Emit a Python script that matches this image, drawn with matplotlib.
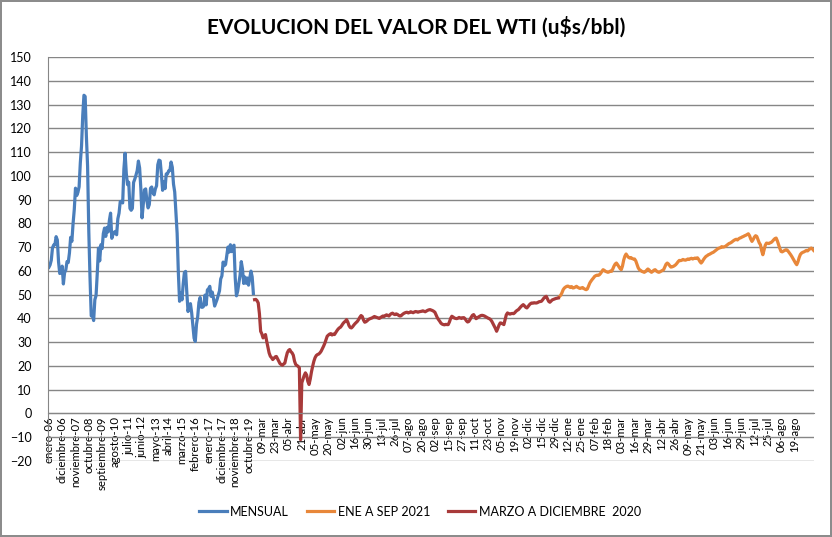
import numpy as np
import matplotlib
matplotlib.use("Agg")
import matplotlib.pyplot as plt

plt.rcParams['font.family'] = ['Lato', 'DejaVu Sans']

# promedio mensual ene-06 a feb-20
mensual = [
    61.5, 62.5, 64.5, 69.7, 70.9, 71.0, 74.4, 73.0, 63.8, 58.9, 59.1, 62.0,
    54.5, 59.3, 60.4, 63.9, 63.5, 67.5, 74.1, 72.4, 79.9, 85.8, 94.8, 91.7,
    93.0, 95.4, 105.5, 112.6, 125.4, 133.9, 133.4, 116.7, 104.1, 76.6, 57.3, 41.1,
    41.7, 39.1, 47.9, 49.6, 59.0, 69.6, 64.2, 71.0, 69.4, 75.7, 78.0, 74.5,
    78.3, 76.4, 81.2, 84.3, 73.7, 75.3, 76.3, 76.6, 75.2, 81.9, 84.3, 89.2,
    89.2, 88.6, 102.9, 109.5, 100.9, 96.3, 97.3, 86.3, 85.5, 86.3, 97.2, 98.6,
    100.3, 102.2, 106.2, 103.3, 94.7, 82.3, 87.9, 94.1, 94.5, 89.5, 86.5, 87.9,
    94.8, 95.3, 92.9, 92.0, 94.5, 95.8, 104.6, 106.6, 106.3, 100.5, 93.9, 97.6,
    94.6, 100.8, 100.8, 102.1, 102.2, 105.8, 103.6, 96.5, 93.2, 84.4, 75.8, 59.3,
    47.2, 50.6, 47.8, 54.5, 59.3, 59.8, 50.9, 42.9, 45.5, 46.2, 42.4, 37.2,
    31.7, 30.3, 37.5, 40.8, 46.7, 48.8, 44.7, 44.7, 45.2, 49.8, 45.7, 52.0,
    52.5, 53.5, 49.3, 51.1, 48.5, 45.2, 46.6, 48.0, 49.8, 51.6, 56.6, 57.9,
    63.7, 62.2, 62.7, 66.3, 70.0, 67.9, 71.0, 68.1, 70.2, 70.8, 57.0, 49.5,
    51.4, 54.9, 58.2, 63.9, 60.8, 54.7, 57.4, 54.8, 57.0, 54.0, 57.0, 59.9,
    57.5, 50.5,
]

# diario marzo a diciembre 2020
marzo_dic_2020 = [
    47.9, 48.0, 47.5, 46.5, 42.0, 34.6, 33.5, 31.8, 32.5, 33.2,
    30.4, 28.0, 25.5, 24.1, 23.5, 22.7, 23.2, 23.8, 24.0, 23.0,
    22.0, 21.0, 20.6, 20.3, 20.8, 21.2, 23.5, 25.5, 26.5, 26.9,
    26.0, 25.5, 24.5, 22.0, 20.6, 20.2, 19.8, 19.2, -11.0, 12.9,
    14.5, 16.0, 17.1, 16.2, 13.5, 12.2, 14.5, 17.5, 19.9, 22.0,
    23.5, 24.4, 24.8, 25.0, 25.5, 26.2, 27.2, 28.3, 29.5, 31.0,
    32.5, 33.0, 33.4, 33.6, 33.0, 33.4, 33.2, 34.0, 34.8, 35.5,
    36.0, 36.3, 37.0, 37.8, 38.4, 38.8, 39.5, 38.5, 37.0, 36.2,
    36.0, 36.5, 37.2, 37.8, 38.3, 38.8, 39.6, 40.5, 41.2, 40.8,
    39.3, 38.4, 38.6, 39.0, 39.5, 39.8, 40.0, 40.2, 40.5, 40.8,
    40.6, 40.4, 40.2, 40.0, 40.3, 40.7, 41.0, 40.8, 41.2, 41.5,
    41.3, 41.0, 41.6, 42.0, 42.2, 41.8, 41.6, 41.9, 41.7, 41.3,
    41.0, 41.1, 41.6, 42.0, 42.3, 42.5, 42.6, 42.3, 42.5, 42.8,
    42.6, 42.4, 42.7, 42.9, 42.8, 42.6, 42.8, 42.9, 43.0, 43.2,
    43.0, 42.8, 43.1, 43.4, 43.6, 43.7, 43.5, 43.3, 43.0, 42.6,
    41.5, 40.3, 39.5, 38.8, 38.0, 37.6, 37.4, 37.3, 37.5, 37.4,
    37.4, 38.5, 40.0, 40.9, 40.6, 40.2, 40.0, 39.9, 40.1, 40.4,
    40.2, 40.0, 40.3, 40.3, 39.8, 39.0, 38.5, 38.7, 39.5, 40.5,
    41.3, 41.6, 40.8, 39.9, 40.2, 40.6, 40.9, 41.2, 41.3, 41.2,
    41.0, 40.7, 40.4, 40.1, 39.9, 39.5, 38.8, 37.8, 36.9, 35.8,
    34.6, 35.8, 37.2, 38.1, 38.0, 37.7, 37.4, 39.5, 41.5, 42.3,
    42.0, 41.8, 42.0, 42.1, 42.0, 42.4, 43.0, 43.4, 43.7, 44.3,
    44.9, 45.4, 45.8, 45.3, 44.7, 44.4, 45.0, 45.7, 46.2, 46.5,
    46.4, 46.6, 46.5, 46.5, 46.7, 47.0, 47.1, 47.2, 47.8, 48.5,
    49.0, 49.3, 48.2, 47.2, 46.8, 47.3, 47.8, 48.0, 48.2, 48.4,
    48.5, 48.6,
]

# diario enero a agosto 2021
ene_sep_2021 = [
    49.2, 49.8, 50.8, 52.1, 52.8, 53.2, 53.5, 53.6, 53.3, 53.0,
    53.4, 52.8, 52.9, 53.2, 53.5, 53.1, 52.8, 52.6, 52.8, 53.0,
    52.6, 52.3, 52.1, 52.4, 53.6, 54.9, 55.7, 56.4, 57.0, 57.7,
    58.0, 58.2, 58.1, 58.4, 59.0, 59.8, 60.5, 60.2, 59.8, 59.6,
    59.4, 59.6, 59.9, 59.8, 60.8, 62.0, 62.9, 63.3, 62.6, 61.8,
    61.0, 60.5, 62.0, 64.5, 66.2, 67.1, 66.3, 65.7, 65.4, 65.6,
    65.2, 65.0, 65.0, 64.2, 62.8, 61.3, 60.5, 60.2, 59.8, 59.6,
    59.4, 59.7, 60.3, 60.8, 60.4, 59.8, 59.4, 59.8, 60.3, 60.5,
    60.0, 59.6, 59.4, 59.6, 59.9, 60.2, 60.5, 61.6, 62.8, 63.3,
    62.9, 62.2, 61.6, 61.7, 61.9, 62.2, 62.6, 63.2, 63.9, 64.4,
    64.3, 64.5, 64.8, 64.6, 64.5, 64.7, 65.0, 64.8, 65.1, 65.3,
    65.0, 65.2, 65.4, 65.2, 65.5, 64.8, 63.9, 63.3, 63.9, 64.8,
    65.5, 66.1, 66.4, 66.8, 67.0, 67.3, 67.6, 67.8, 68.2, 68.6,
    69.0, 69.4, 69.6, 69.8, 70.2, 70.0, 70.1, 70.3, 70.7, 71.1,
    71.5, 71.7, 72.0, 72.4, 72.8, 73.1, 73.3, 73.0, 73.5, 73.8,
    74.0, 74.3, 74.5, 74.8, 75.0, 75.3, 75.6, 74.8, 73.4, 72.4,
    73.2, 74.2, 74.8, 74.5, 73.2, 71.8, 71.0, 68.5, 66.8, 68.8,
    70.8, 71.7, 71.6, 71.5, 71.8, 72.0, 72.5, 73.1, 73.6, 73.8,
    72.6, 71.0, 69.5, 68.2, 68.0, 68.3, 68.6, 68.9, 68.8, 68.2,
    67.5, 66.8, 66.0, 65.1, 64.2, 63.3, 62.6, 63.8, 65.6, 66.9,
    67.5, 67.8, 68.0, 68.3, 68.6, 68.4, 68.9, 69.3, 69.6, 69.2,
    68.6,
]

etiquetas = ['enero-06', 'diciembre-06', 'noviembre-07', 'octubre-08', 'septiembre-09',
             'agosto-10', 'julio-11', 'junio-12', 'mayo-13', 'abril-14', 'marzo-15',
             'febrero-16', 'enero-17', 'diciembre-17', 'noviembre-18', 'octubre-19',
             '09-mar', '23-mar', '05-abr', '21-abr', '05-may', '20-may', '02-jun',
             '16-jun', '30-jun', '13-jul', '26-jul', '07-ago', '20-ago', '02-sep',
             '15-sep', '27-sep', '11-oct', '23-oct', '05-nov', '19-nov', '02-dic',
             '15-dic', '29-dic', '12-ene', '25-ene', '07-feb', '18-feb', '03-mar',
             '16-mar', '29-mar', '12-abr', '26-abr', '09-may', '21-may', '03-jun',
             '16-jun', '29-jun', '12-jul', '25-jul', '06-ago', '19-ago']

n1 = len(mensual)
n2 = len(marzo_dic_2020)
n3 = len(ene_sep_2021)
x1 = np.arange(n1)
x2 = np.arange(n1, n1 + n2)
x3 = np.arange(n1 + n2, n1 + n2 + n3)
total = n1 + n2 + n3

fig = plt.figure(figsize=(8.32, 5.37), dpi=100)
fig.patch.set_edgecolor('#8c8c8c')
fig.patch.set_linewidth(1.5)
ax = fig.add_axes([0.058, 0.1415, 0.9207, 0.7524])

# eje de categorias cruzando en 0 (antes de fijar etiquetas, porque las resetea)
for s in ['top', 'right']:
    ax.spines[s].set_visible(False)
ax.spines['left'].set_color('#868686')
ax.spines['bottom'].set_color('#868686')
ax.spines['bottom'].set_position(('data', 0))

ax.plot(x1, mensual, color='#4a7ebb', lw=2.3, label='MENSUAL', solid_joinstyle='round')
ax.plot(x3, ene_sep_2021, color='#e8873a', lw=2.3, label='ENE A SEP 2021', solid_joinstyle='round')
ax.plot(x2, marzo_dic_2020, color='#a83a3a', lw=2.3, label='MARZO A DICIEMBRE  2020', solid_joinstyle='round')

ax.set_xlim(-0.5, total - 0.5)
ax.set_ylim(-20, 150)
ax.set_yticks(np.arange(-20, 151, 10))
ax.yaxis.grid(True, color='#868686', lw=1)
ax.set_axisbelow(True)

ax.set_xticks(np.arange(len(etiquetas)) * 11)
ax.set_xticklabels(etiquetas, fontsize=8.2)
ax.tick_params(axis='x', labelrotation=90, pad=2)
ax.tick_params(axis='both', length=0)
ax.tick_params(axis='y', labelsize=9, pad=12)

fig.suptitle('EVOLUCION DEL VALOR DEL WTI (u$s/bbl)', fontsize=15, fontweight='bold', y=0.97)

ax.legend(loc='lower center', bbox_to_anchor=(0.505, 0.015), bbox_transform=fig.transFigure,
          ncol=3, frameon=False, fontsize=9, handlelength=2.2, columnspacing=1.4,
          handletextpad=0.3)

fig.savefig('out.png', dpi=100, edgecolor=fig.get_edgecolor())
